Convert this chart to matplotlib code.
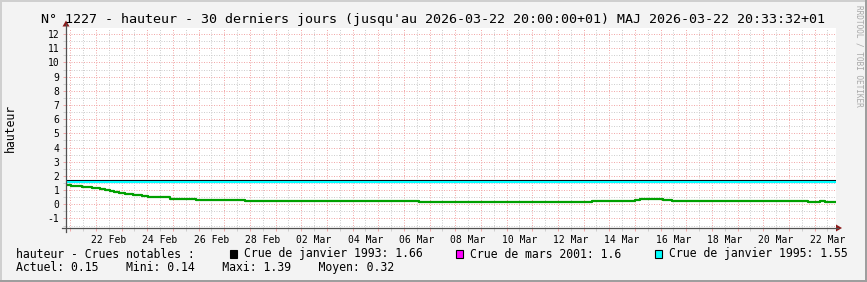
import matplotlib
matplotlib.use('Agg')
import matplotlib.pyplot as plt
import matplotlib.dates as mdates
from matplotlib.patches import Rectangle, Polygon
from matplotlib.lines import Line2D
from matplotlib.ticker import MultipleLocator, FuncFormatter, NullFormatter
import pandas as pd

plt.rcParams['axes.unicode_minus'] = False

# water level (hauteur), step series
times = ["2026-02-20 20:00", "2026-02-21 01:00", "2026-02-21 11:00", "2026-02-21 20:00",
         "2026-02-22 04:00", "2026-02-22 08:00", "2026-02-22 13:00", "2026-02-22 17:00",
         "2026-02-22 22:00", "2026-02-23 03:00", "2026-02-23 11:00", "2026-02-23 19:00",
         "2026-02-24 01:00", "2026-02-24 21:00", "2026-02-25 22:00", "2026-02-27 19:00",
         "2026-03-03 19:00", "2026-03-04 01:00", "2026-03-05 03:00", "2026-03-05 10:00",
         "2026-03-06 08:00", "2026-03-06 14:00", "2026-03-13 08:00", "2026-03-14 00:00",
         "2026-03-15 00:00", "2026-03-15 05:00", "2026-03-16 02:00", "2026-03-16 11:00",
         "2026-03-17 16:00", "2026-03-18 07:00", "2026-03-18 19:00", "2026-03-21 18:00",
         "2026-03-22 05:00", "2026-03-22 10:00", "2026-03-22 19:00"]
level = [1.39, 1.31, 1.24, 1.17,
         1.10, 1.03, 0.94, 0.85,
         0.78, 0.71, 0.64, 0.57,
         0.50, 0.40, 0.33, 0.25,
         0.22, 0.25, 0.23, 0.25,
         0.20, 0.14, 0.20, 0.25,
         0.30, 0.35, 0.30, 0.25,
         0.20, 0.25, 0.20, 0.15,
         0.20, 0.15, 0.15]

t_start = "2026-02-20 20:00"
t_end = "2026-03-22 20:00"

crue_labels = ["Crue de janvier 1993", "Crue de mars 2001", "Crue de janvier 1995"]
crue_values = [1.66, 1.6, 1.55]
crue_colors = ["#000000", "#ff00ff", "#00ffff"]

stat_names = ["Actuel", "Mini", "Maxi", "Moyen"]
stat_values = [0.15, 0.14, 1.39, 0.32]

title = ("N° 1227 - hauteur - 30 derniers jours (jusqu'au 2026-03-22 20:00:00+01) "
         "MAJ 2026-03-22 20:33:32+01")

W, H = 867, 282
MONO = "DejaVu Sans Mono"

def fx(x):
    return x / W

def fy(y):
    return 1 - y / H

fig = plt.figure(figsize=(W / 100, H / 100), dpi=100, facecolor="#f3f3f3")

# frame like rrdtool (light top/left, dark bottom/right)
fig.add_artist(Rectangle((0, fy(2)), 1, fy(0) - fy(2), transform=fig.transFigure,
                         color="#cfcfcf", lw=0))
fig.add_artist(Rectangle((0, 0), fx(2), 1, transform=fig.transFigure, color="#cfcfcf", lw=0))
fig.add_artist(Rectangle((0, 0), 1, fy(280) - fy(282), transform=fig.transFigure,
                         color="#9e9e9e", lw=0))
fig.add_artist(Rectangle((fx(865), 0), fx(2), 1, transform=fig.transFigure,
                         color="#9e9e9e", lw=0))

ax = fig.add_axes([fx(66), fy(228), fx(836) - fx(66), fy(27.5) - fy(228)])
ax.set_facecolor("white")

t = pd.to_datetime(times)
for v, c in zip(crue_values, crue_colors):
    ax.axhline(v, color=c, lw=1.5, zorder=3)
ax.step(t, level, where="post", color="#00a000", lw=1.6, zorder=4)

ax.set_xlim(pd.Timestamp(t_start), pd.Timestamp(t_end))
ax.set_ylim(-1.67, 12.46)

minor_col = "#cfcfcf"
major_col = "#f2aaaa"

ax.xaxis.set_major_locator(mdates.DayLocator())
ax.xaxis.set_minor_locator(mdates.HourLocator(byhour=[12]))
ax.xaxis.set_major_formatter(NullFormatter())

def day_label(v, pos):
    d = mdates.num2date(v)
    return d.strftime("%d %b") if d.day % 2 == 0 else ""

ax.xaxis.set_minor_formatter(FuncFormatter(day_label))
ax.yaxis.set_major_locator(MultipleLocator(1))
ax.yaxis.set_minor_locator(MultipleLocator(0.5))

ax.grid(which="major", color=major_col, ls=(0, (1, 1.5)), lw=0.72)
ax.grid(which="minor", color=minor_col, ls=(0, (1, 1.5)), lw=0.72)
ax.set_axisbelow(True)

ax.tick_params(axis="both", which="major", length=2.2, width=0.72, color=major_col,
               labelsize=7)
ax.tick_params(axis="both", which="minor", length=2.2, width=0.72, color=minor_col,
               labelsize=7)
ax.tick_params(axis="y", pad=2.5)
ax.tick_params(axis="x", which="minor", pad=2.5)
for lab in ax.get_xticklabels(minor=True) + ax.get_yticklabels():
    lab.set_fontfamily(MONO)
    lab.set_color("#000000")
for s in ax.spines.values():
    s.set_visible(False)

# axes with arrows
axis_col = "#505050"
arrow_col = "#8b1a1a"
fig.add_artist(Line2D([fx(62), fx(838)], [fy(228), fy(228)], color=axis_col, lw=0.9))
fig.add_artist(Line2D([fx(66), fx(66)], [fy(232), fy(24)], color=axis_col, lw=0.9))
fig.add_artist(Polygon([(fx(836), fy(224.5)), (fx(842), fy(228)), (fx(836), fy(231.5))],
                       closed=True, color=arrow_col, lw=0))
fig.add_artist(Polygon([(fx(62.5), fy(26.5)), (fx(66), fy(20.5)), (fx(69.5), fy(26.5))],
                       closed=True, color=arrow_col, lw=0))

# texts
fig.text(fx(433), fy(19), title, ha="center", va="center", fontsize=9.6, family=MONO)
fig.text(fx(10), fy(127.5), "hauteur", ha="center", va="center", rotation=90,
         fontsize=8.3, family=MONO)
fig.text(fx(858.5), fy(5), "RRDTOOL / TOBI OETIKER", ha="center", va="top", rotation=270,
         fontsize=5.6, family=MONO, color="#a8a8a8")

fig.text(fx(16), fy(254), "hauteur - Crues notables :", ha="left", va="center",
         fontsize=8.3, family=MONO)
box_x = [229.5, 456, 655]
for bx, lab, v, c in zip(box_x, crue_labels, crue_values, crue_colors):
    fig.add_artist(Rectangle((fx(bx), fy(258)), fx(7), fy(250) - fy(258),
                             transform=fig.transFigure, facecolor=c, edgecolor="black",
                             lw=0.8))
    fig.text(fx(bx + 14), fy(254), f"{lab}: {v:g}", ha="left", va="center",
             fontsize=8.3, family=MONO)

stats = "    ".join(f"{n}: {v:.2f}" for n, v in zip(stat_names, stat_values))
fig.text(fx(16), fy(268), stats, ha="left", va="center", fontsize=8.3, family=MONO)

fig.savefig("out.png", dpi=100, facecolor=fig.get_facecolor())
